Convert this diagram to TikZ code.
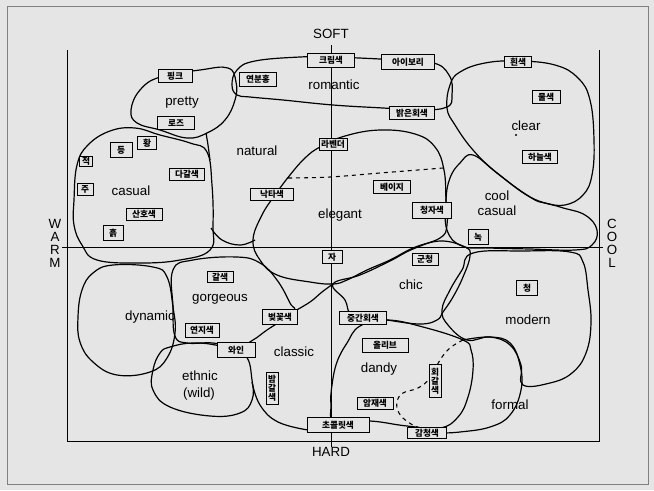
\documentclass[tikz,border=0pt]{standalone}
\usepackage{fontspec}
\setmainfont{Liberation Sans}
\newfontfamily\kr{Noto Sans CJK KR}
\definecolor{bgc}{gray}{0.9}
\begin{document}
\begin{tikzpicture}[x=0.75pt,y=-0.75pt,
  blob/.style={line width=0.9pt, line join=round},
  frm/.style={line width=0.6pt},
  lbl/.style={font=\fontsize{10}{12}\selectfont, inner sep=0pt},
  kb/.style 2 args={draw, line width=0.7pt, fill=bgc, inner sep=0pt,
    font=\kr\bfseries\fontsize{6.5}{6.8}\selectfont, align=center,
    minimum width=#1*0.75pt, minimum height=#2*0.75pt},
  stk/.style={font=\fontsize{10}{9.75}\selectfont, inner sep=0pt, align=center}]
\useasboundingbox (0,0) rectangle (654,490);
\fill[bgc] (0,0) rectangle (654,490);
\draw[line width=0.4pt, gray] (7,6) rectangle (648,484);
% frame and axes
\draw[frm] (67,50) -- (67,441) -- (599,441) -- (599,50);
\draw[frm] (331,45) -- (331,447);
\draw[frm] (62,247) -- (603,247);
% blobs
\draw[blob] plot[smooth cycle, tension=0.7] coordinates {(131,110) (140,90) (160,77) (200,70) (228,68) (236,82) (235,100) (225,120) (207,133) (187,138) (160,130) (137,123)}; % pretty
\draw[blob] plot[smooth cycle, tension=0.7] coordinates {(232,85) (237,70) (255,61) (300,57) (331,57) (380,59) (430,62) (449,75) (452,95) (447,107) (420,110) (383,108) (333,105) (283,100) (250,97) (237,95)}; % romantic
\draw[blob] plot[smooth cycle, tension=0.7] coordinates {(447,108) (450,85) (460,72) (485,63) (518,61) (555,65) (578,78) (590,100) (594,140) (592,175) (583,195) (565,205) (545,203) (530,197) (497,173) (473,150) (455,125)}; % clear
\draw[blob] plot[smooth cycle, tension=0.7] coordinates {(74,200) (77,165) (88,145) (110,131) (135,128) (160,135) (190,143) (207,152) (212,185) (213,225) (210,250) (180,260) (140,263) (97,260) (82,245) (74,225)}; % casual
\draw[blob] plot[smooth, tension=0.7] coordinates {(206,133) (208,145) (210,160)}; % natural left
\draw[blob] plot[smooth, tension=0.7] coordinates {(211,228) (222,240) (240,245) (255,240)}; % natural lobe
\draw[blob] plot[smooth cycle, tension=0.7] coordinates {(253,240) (262,215) (275,195) (290,175) (305,158) (320,147) (345,136) (380,130) (415,134) (435,147) (444,170) (446,200) (447,225) (440,238) (413,248) (390,260) (367,270) (347,280) (333,284) (310,282) (277,275) (260,260)}; % elegant
\draw[blob, dashed, line width=0.8pt] plot[smooth, tension=0.6] coordinates {(288,178) (330,177) (380,173) (443,168)};
\draw[blob] plot[smooth cycle, tension=0.7] coordinates {(447,230) (446,200) (450,178) (460,163) (473,155) (497,173) (530,197) (560,207) (585,215) (597,230) (592,245) (575,250) (530,249) (490,248) (462,246)}; % cool casual
\draw[blob] plot[smooth cycle, tension=0.7] coordinates {(78,317) (82,290) (93,273) (113,265) (153,267) (167,277) (173,307) (175,333) (167,358) (150,372) (117,375) (93,362) (80,342)}; % dynamic
\draw[blob] plot[smooth cycle, tension=0.7] coordinates {(173,270) (193,260) (237,257) (260,263) (277,280) (290,303) (293,312) (267,330) (253,340) (236,348) (213,343) (187,343) (175,336) (173,307)}; % gorgeous
\draw[blob] plot[smooth cycle, tension=0.7] coordinates {(170,347) (193,343) (220,346) (245,355) (252,380) (252,400) (240,413) (210,416) (170,407) (153,390) (153,370) (160,353)}; % ethnic
\draw[blob] plot[smooth, tension=0.7] coordinates {(252,382) (260,405) (278,422) (308,430)}; % classic bottom
\draw[blob] plot[smooth, tension=0.7] coordinates {(293,312) (310,302) (322,292) (333,284)}; % classic top
\draw[blob] plot[smooth cycle, tension=0.7] coordinates {(333,284) (360,275) (390,261) (413,249) (440,241) (465,247) (470,256) (463,277) (453,297) (443,312) (437,320) (420,324) (387,320) (363,316) (350,313) (345,300)}; % chic
\draw[blob] plot[smooth cycle, tension=0.7] coordinates {(467,340) (448,325) (442,310) (450,290) (462,270) (473,253) (523,251) (570,252) (583,262) (588,290) (591,323) (586,353) (572,373) (550,383) (523,385) (521,365) (510,345) (490,337)}; % modern
\draw[blob] plot[smooth cycle, tension=0.7] coordinates {(360,326) (347,343) (337,362) (332,385) (331,405) (335,422) (370,421) (407,426) (440,428) (458,417) (468,397) (473,370) (471,350) (463,340) (423,327) (387,320)}; % dandy
\draw[blob] plot[smooth, tension=0.7] coordinates {(463,340) (490,337) (510,343) (520,365) (521,390) (510,415) (490,427) (460,432) (440,433)}; % formal solid
\draw[blob, dashed, line width=0.8pt] plot[smooth, tension=0.7] coordinates {(463,340) (450,348) (440,360) (430,378) (418,388) (403,393) (397,402) (399,413) (408,422) (420,428) (432,431)}; % formal dashed
\fill (516,135) circle (1.2);
% colour boxes
\node[kb={47}{14}] (kcream) at (331,60) {크림색};
\node[kb={53}{15}] (kivory) at (408,62) {아이보리};
\node[kb={37}{14}] (kltpink) at (258,79) {연분홍};
\node[kb={34}{13}] (kpink) at (175,76) {핑크};
\node[kb={37}{13}] (krose) at (176,123) {로즈};
\node[kb={45}{13}] (kltgray) at (412,113) {밝은회색};
\node[kb={27}{11}] (kwhite) at (518,62) {흰색};
\node[kb={28}{13}] (kwater) at (546,97) {물색};
\node[kb={35}{13}] (ksky) at (540,157) {하늘색};
\node[kb={28}{12}] (klav) at (333,144) {라벤더};
\node[kb={37}{13}] (kbeige) at (392,187) {베이지};
\node[kb={43}{12}] (kcamel) at (272,194) {낙타색};
\node[kb={39}{16}] (kbv) at (432,210) {청자색};
\node[kb={13}{10}] (kred) at (86,161) {적};
\node[kb={22}{15}] (korange) at (121,150) {등};
\node[kb={19}{13}] (kyellow) at (147,143) {황};
\node[kb={16}{12}] (kverm) at (85,189) {주};
\node[kb={35}{12}] (kdkbrown) at (187,174) {다갈색};
\node[kb={36}{12}] (kcoral) at (144,214) {산호색};
\node[kb={20}{15}] (kearth) at (113,233) {흙};
\node[kb={20}{13}] (kpurple) at (332,257) {자};
\node[kb={26}{12}] (kultra) at (425,259) {군청};
\node[kb={20}{15}] (kgreen) at (478,237) {녹};
\node[kb={21}{15}] (kblue) at (527,288) {청};
\node[kb={26}{11}] (kbrown) at (220,277) {갈색};
\node[kb={34}{14}] (krouge) at (202,330) {연지색};
\node[kb={35}{15}] (kcherry) at (280,317) {벚꽃색};
\node[kb={38}{15}] (kwine) at (236,350) {와인};
\node[kb={47}{13}] (kmidgray) at (363,318) {중간회색};
\node[kb={46}{14}] (kolive) at (385,345) {올리브};
\node[kb={36}{12}] (kdkash) at (375,403) {암재색};
\node[kb={12}{33}] (kgraybrown) at (435,381) {회\\갈\\색};
\node[kb={12}{32}] (kchestnut) at (272,388) {밤\\갈\\색};
\node[kb={62}{15}] (kchoco) at (338,425) {초콜릿색};
\node[kb={39}{11}] (knavy) at (427,433) {감청색};
% image words
\node[lbl] (tsoft) at (331,34) {SOFT};
\node[lbl] (thard) at (331,452) {HARD};
\node[stk] (twarm) at (55,243) {W\\A\\R\\M};
\node[stk] (tcool) at (612,243) {C\\O\\O\\L};
\node[lbl] (tpretty) at (182,103) {pretty};
\node[lbl] (tromantic) at (334,85) {romantic};
\node[lbl] (tnatural) at (257,151) {natural};
\node[lbl] (tclear) at (526,126) {clear};
\node[lbl] (tcasual) at (131,191) {casual};
\node[lbl] (telegant) at (340,215) {elegant};
\node[lbl] (tcool1) at (497,196) {cool};
\node[lbl] (tcool2) at (497,211) {casual};
\node[lbl] (tdynamic) at (150,317) {dynamic};
\node[lbl] (tgorgeous) at (220,299) {gorgeous};
\node[lbl] (tethnic) at (200,376) {ethnic};
\node[lbl] (twild) at (199,394) {(wild)};
\node[lbl] (tclassic) at (294,352) {classic};
\node[lbl] (tchic) at (411,285) {chic};
\node[lbl] (tmodern) at (528,320) {modern};
\node[lbl] (tdandy) at (379,369) {dandy};
\node[lbl] (tformal) at (510,405) {formal};
\end{tikzpicture}
\end{document}
